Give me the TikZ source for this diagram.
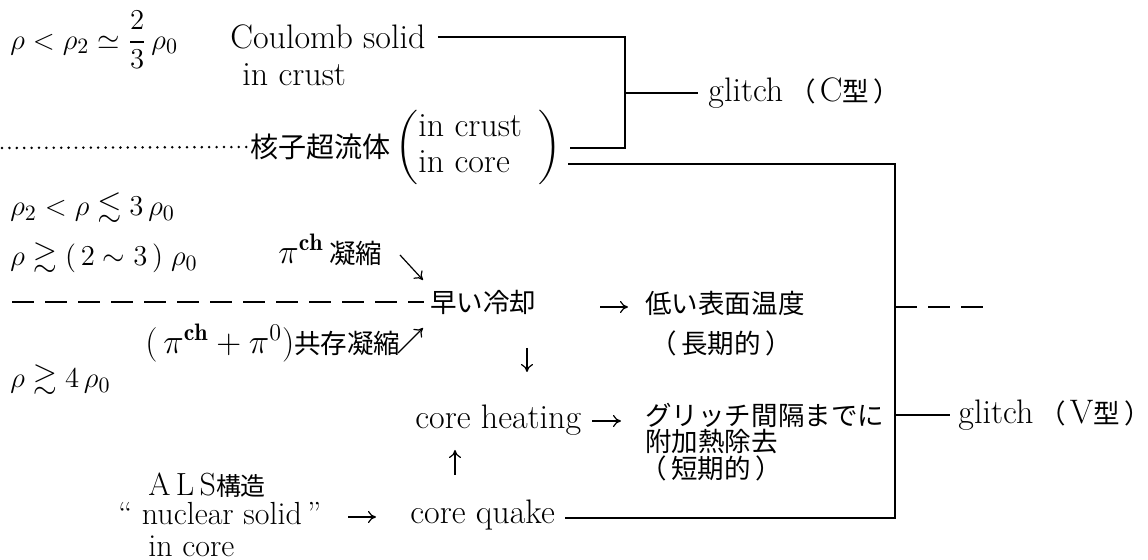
\documentclass[tikz,border=0pt]{standalone}
\usepackage{fontspec}
\usepackage{amsmath,amssymb}
\newfontfamily\jpf[Scale=0.78]{Noto Sans CJK JP}
\usetikzlibrary{arrows.meta}
\usetikzlibrary{calc}
\usepackage{xcolor}

\begin{document}
\begin{tikzpicture}[x=0.5pt,y=-0.5pt,
    every node/.style={font=\fontsize{17}{19}\selectfont, inner sep=0pt, anchor=west},
    mathlab/.style={font=\fontsize{15.5}{18}\selectfont},
    small/.style={font=\fontsize{16}{18}\selectfont},
    wire/.style={line width=1.3pt},
    dashline/.style={line width=0.8pt, dash pattern=on 11pt off 5.5pt},
    arr/.style={line width=0.6pt, -{To[length=4pt,width=6pt]}}]
      \useasboundingbox (0,0) rectangle (1148,560);

      % Density ranges
      \node[mathlab] (r1) at (10,40) {$\displaystyle\rho<\rho_2\simeq\frac{2}{3}\,\rho_0$};
      \foreach \i/\y/\lab in {2/208/{$\rho_2<\rho\lesssim 3\,\rho_0$},
                              3/258/{$\rho\gtrsim(\,2\sim3\,)\;\rho_0$},
                              4/380/{$\rho\gtrsim 4\,\rho_0$}}
      {
        \node[mathlab] (r\i) at (10,\y) {\lab};
      }

      % Crust
      \node (coul) at (230,37) {Coulomb solid};
      \node (crust) at (242,75) {in crust};
      \node[font=\fontsize{18}{20}\selectfont] (sf) at (250,147) {\jpf 核子超流体};
      \node[mathlab] (where) at ($(sf.east)+(4,0)$) {$\left(\begin{array}{@{}l@{\;\;}}\text{\fontsize{17}{19}\selectfont in crust}\\ \text{\fontsize{17}{19}\selectfont in core}\end{array}\right)$};
      \node (glC) at (708,93) {glitch\,{\jpf（\,}C{\jpf 型\,）}};
      \draw[line width=1.4pt, line cap=round, dash pattern=on 0pt off 3.7pt] (2,148) -- ($(sf.west)+(-3,0)$);

      \coordinate (cT) at (625,37);
      \coordinate (cM) at (625,93);
      \coordinate (cB) at (625,148);
      \coordinate (crE) at (570,148);
      \draw[wire] ($(coul.east)+(12,0)$) -- (cT) -- (cB) -- (crE);
      \draw[wire] (cM) -- ($(glC.west)+(-10,0)$);

      % Cooling
      \node (pich) at (278,250) {$\pi^{\mathbf{ch}}$\,{\jpf 凝縮}};
      \node (cool) at (430,302) {\jpf 早い冷却};
      \node (coex) at (145,343) {$(\,\pi^{\mathbf{ch}}+\pi^0)${\jpf 共存凝縮}};
      \node (low) at (645,303) {\jpf 低い表面温度};
      \node (long) at (650,343) {\jpf （\,長期的\,）};
      \draw[dashline] (12,302) -- ($(cool.west)+(-6,0)$);
      \draw[arr] ($(cool.west)+(-30,-47)$) -- ($(cool.west)+(-7,-22)$);
      \draw[arr] ($(cool.west)+(-32,51)$) -- ($(cool.west)+(-7,26)$);
      \draw[arr] ($(low.west)+(-45,4)$) -- ($(low.west)+(-17,4)$);

      % Heating
      \node (heat) at (415,420) {core heating};
      \node (glint) at (645,415) {\jpf グリッチ間隔までに};
      \node (add) at (645,442) {\jpf 附加熱除去};
      \node (short) at (640,468) {\jpf （\,短期的\,）};
      \draw[arr] ($(heat.west)+(112,-72)$) -- ($(heat.west)+(112,-48)$);
      \draw[arr] ($(glint.west)+(-53,6)$) -- ($(glint.west)+(-24,6)$);
      \draw[arr] ($(heat.west)+(40,55)$) -- ($(heat.west)+(40,30)$);

      % Core
      \node[small] (als) at (148,485) {A\,L\,S{\jpf 構造}};
      \node[small] (nuc) at (118,514) {“\ nuclear solid\,”};
      \node[small] (incore) at (148,546) {in core};
      \node (quake) at (410,515) {core quake};
      \draw[arr] ($(quake.west)+(-62,2)$) -- ($(quake.west)+(-34,2)$);

      \node (glV) at (958,415) {glitch\,{\jpf（\,}V{\jpf 型\,）}};
      \coordinate (coE) at (568,164);
      \coordinate (vT) at (895,164);
      \coordinate (vB) at (895,518);
      \coordinate (qE) at (565,518);
      \coordinate (vD) at (895,307);
      \draw[wire] (coE) -- (vT) -- (vB) -- (qE);
      \draw[wire] (vB |- glV.west) -- ($(glV.west)+(-8,0)$);
      \draw[dashline] (vD) -- ++(90,0);
  \end{tikzpicture}
\end{document}
